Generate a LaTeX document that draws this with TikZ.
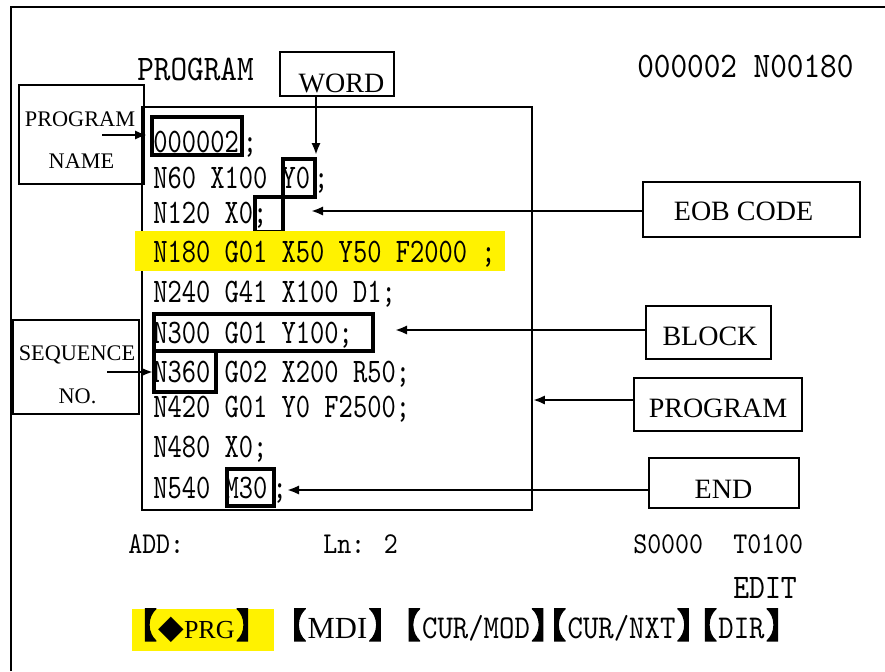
\documentclass[tikz,border=0pt]{standalone}
\usepackage{fontspec}
\setmainfont{Liberation Serif}
\newfontfamily\codefont[FakeStretch=0.79]{lmmono10-regular.otf}
\newfontfamily\dispfont[FakeStretch=0.88]{lmmono10-regular.otf}
\newfontfamily\cjkfont[FakeBold=3.5]{Noto Sans CJK SC}
\newfontfamily\symfont{DejaVu Sans}
\newcommand{\lbrk}{\makebox[0.4em][r]{\cjkfont\fontsize{26}{28}\selectfont 【}\hspace{1pt}}
\newcommand{\rbrk}{\hspace{1pt}\makebox[0.4em][l]{\cjkfont\fontsize{26}{28}\selectfont 】}}
\usetikzlibrary{arrows.meta}

\begin{document}
\begin{tikzpicture}[x=0.75pt,y=0.75pt,yscale=-1,xscale=1,
  codeline/.style={anchor=base west, inner sep=0, font=\codefont\fontsize{25.8}{30}\selectfont},
  screentext/.style={anchor=base west, inner sep=0, font=\dispfont\fontsize{#1}{30}\selectfont},
  tagbox/.style={draw, line width=1.6, inner sep=0},
  tagtext/.style={anchor=base, inner sep=0, font=\fontsize{21}{24}\selectfont},
  smalltext/.style={anchor=base, inner sep=0, font=\fontsize{16.7}{20}\selectfont},
  hilite/.style={line width=2.6},
  arr/.style={-{Latex[length=9pt,width=7pt]}, line width=2.1},
  softkey/.style={anchor=base, inner sep=0, font=\dispfont\fontsize{22}{24}\selectfont},
]
  \useasboundingbox (0,0) rectangle (885,671);
  \draw [line width=1.5] (11,671) -- (11,7) -- (885,7);

  \node [screentext=27] (title) at (137,80) {PROGRAM};
  \node [screentext=27] (prgnum) at (637,77) {000002 N00180};

  \node [draw, line width=1.4, inner sep=0, minimum width=292.5pt, minimum height=302.25pt] (listing) at (337,308.5) {};

  \draw [hilite] (255,197) rectangle (283,232);
  \fill [yellow] (135,231) rectangle (505,271);

  \node [codeline] (line1) at (153,152) {000002\kern3pt;};
  \node [codeline] (line2) at (153,188) {N60 X100 Y0\kern3pt;};
  \node [codeline] (line3) at (153,223) {N120 X0;};
  \node [codeline] (line4) at (153,262) {N180 G01 X50 Y50 F2000 ;};
  \node [codeline] (line5) at (153,302) {N240 G41 X100 D1;};
  \node [codeline] (line6) at (153,343) {N300 G01 Y100;};
  \node [codeline] (line7) at (153,382) {N360 G02 X200 R50;};
  \node [codeline] (line8) at (153,417) {N420 G01 Y0 F2500;};
  \node [codeline] (line9) at (153,457) {N480 X0;};
  \node [codeline] (line10) at (153,498) {N540 M30\kern4pt;};

  \draw [hilite] (152,117) rectangle (242,155);
  \draw [hilite] (283,159) rectangle (315,197);
  \draw [hilite] (154,314) rectangle (373,351);
  \draw [hilite] (154,351) rectangle (216,392);
  \draw [hilite] (227,469) rectangle (274,506);

  \node [tagbox, minimum width=93.75pt, minimum height=74.25pt] (namebox) at (81.5,134.5) {};
  \node [smalltext] (nametxt) at (80,126) {PROGRAM};
  \node [smalltext] (nametxtb) at (81.5,168) {NAME};
  \node [tagbox, minimum width=94.5pt, minimum height=70.5pt] (seqbox) at (76,367) {};
  \node [smalltext] (seqtxt) at (77,360) {SEQUENCE};
  \node [smalltext] (seqtxtb) at (77.5,403) {NO.};
  \node [tagbox, minimum width=85.5pt, minimum height=33pt] (wordbox) at (337,74) {};
  \node [tagtext] (wordtxt) at (341.5,92) {WORD};
  \node [tagbox, minimum width=162.75pt, minimum height=41.25pt] (eobbox) at (751.5,209.5) {};
  \node [tagtext] (eobtxt) at (743.5,220) {EOB CODE};
  \node [tagbox, minimum width=93.75pt, minimum height=39.75pt] (blockbox) at (708.5,332.5) {};
  \node [tagtext] (blocktxt) at (710,345) {BLOCK};
  \node [tagbox, minimum width=126pt, minimum height=39.75pt] (progbox) at (718,404.5) {};
  \node [tagtext] (progtxt) at (718,417) {PROGRAM};
  \node [tagbox, minimum width=112.5pt, minimum height=37.5pt] (endbox) at (724,483) {};
  \node [tagtext] (endtxt) at (723.5,498) {END};

  \coordinate (namefrom) at (102,135);
  \coordinate (seqfrom) at (107,372);
  \coordinate (wordtip) at (316,155);
  \coordinate (eobtip) at (311,211);
  \coordinate (blocktip) at (395,330);
  \coordinate (endtip) at (287,490);

  \draw [arr] (namefrom) -- (147,135);
  \draw [arr] (seqfrom) -- (153,372);
  \draw [arr] (wordtip |- wordbox.south) -- (wordtip);
  \draw [arr] (eobtip -| eobbox.west) -- (eobtip);
  \draw [arr] (blocktip -| blockbox.west) -- (blocktip);
  \draw [arr] (progbox.west |- 0,400) -- (listing.east |- 0,400);
  \draw [arr] (endtip -| endbox.west) -- (endtip);

  \node [screentext=22.7] (addr) at (128,553) {ADD:};
  \node [screentext=22.7] (lnum) at (323,553) {Ln: 2};
  \node [screentext=22.7] (sval) at (633,553) {S0000};
  \node [screentext=22.7] (tval) at (733,553) {T0100};
  \node [screentext=25.8] (mode) at (733,598) {EDIT};

  \fill [yellow] (132,609) rectangle (274,651);
  \node [softkey] (keyprg) at (196.5,638) {\lbrk{\symfont\fontsize{25}{26}\selectfont ◆}{\rmfamily\fontsize{19.5}{20}\selectfont PRG}\rbrk};
  \node [softkey] (keymdi) at (337.5,638) {\lbrk{\rmfamily\fontsize{23}{24}\selectfont MDI}\rbrk};
  \node [softkey] (keymod) at (476,638) {\lbrk{\fontsize{25}{26}\selectfont CUR/MOD}\rbrk};
  \node [softkey] (keynxt) at (621.5,638) {\lbrk{\fontsize{25}{26}\selectfont CUR/NXT}\rbrk};
  \node [softkey] (keydir) at (741.5,638) {\lbrk{\fontsize{25}{26}\selectfont DIR}\rbrk};
\end{tikzpicture}
\end{document}
